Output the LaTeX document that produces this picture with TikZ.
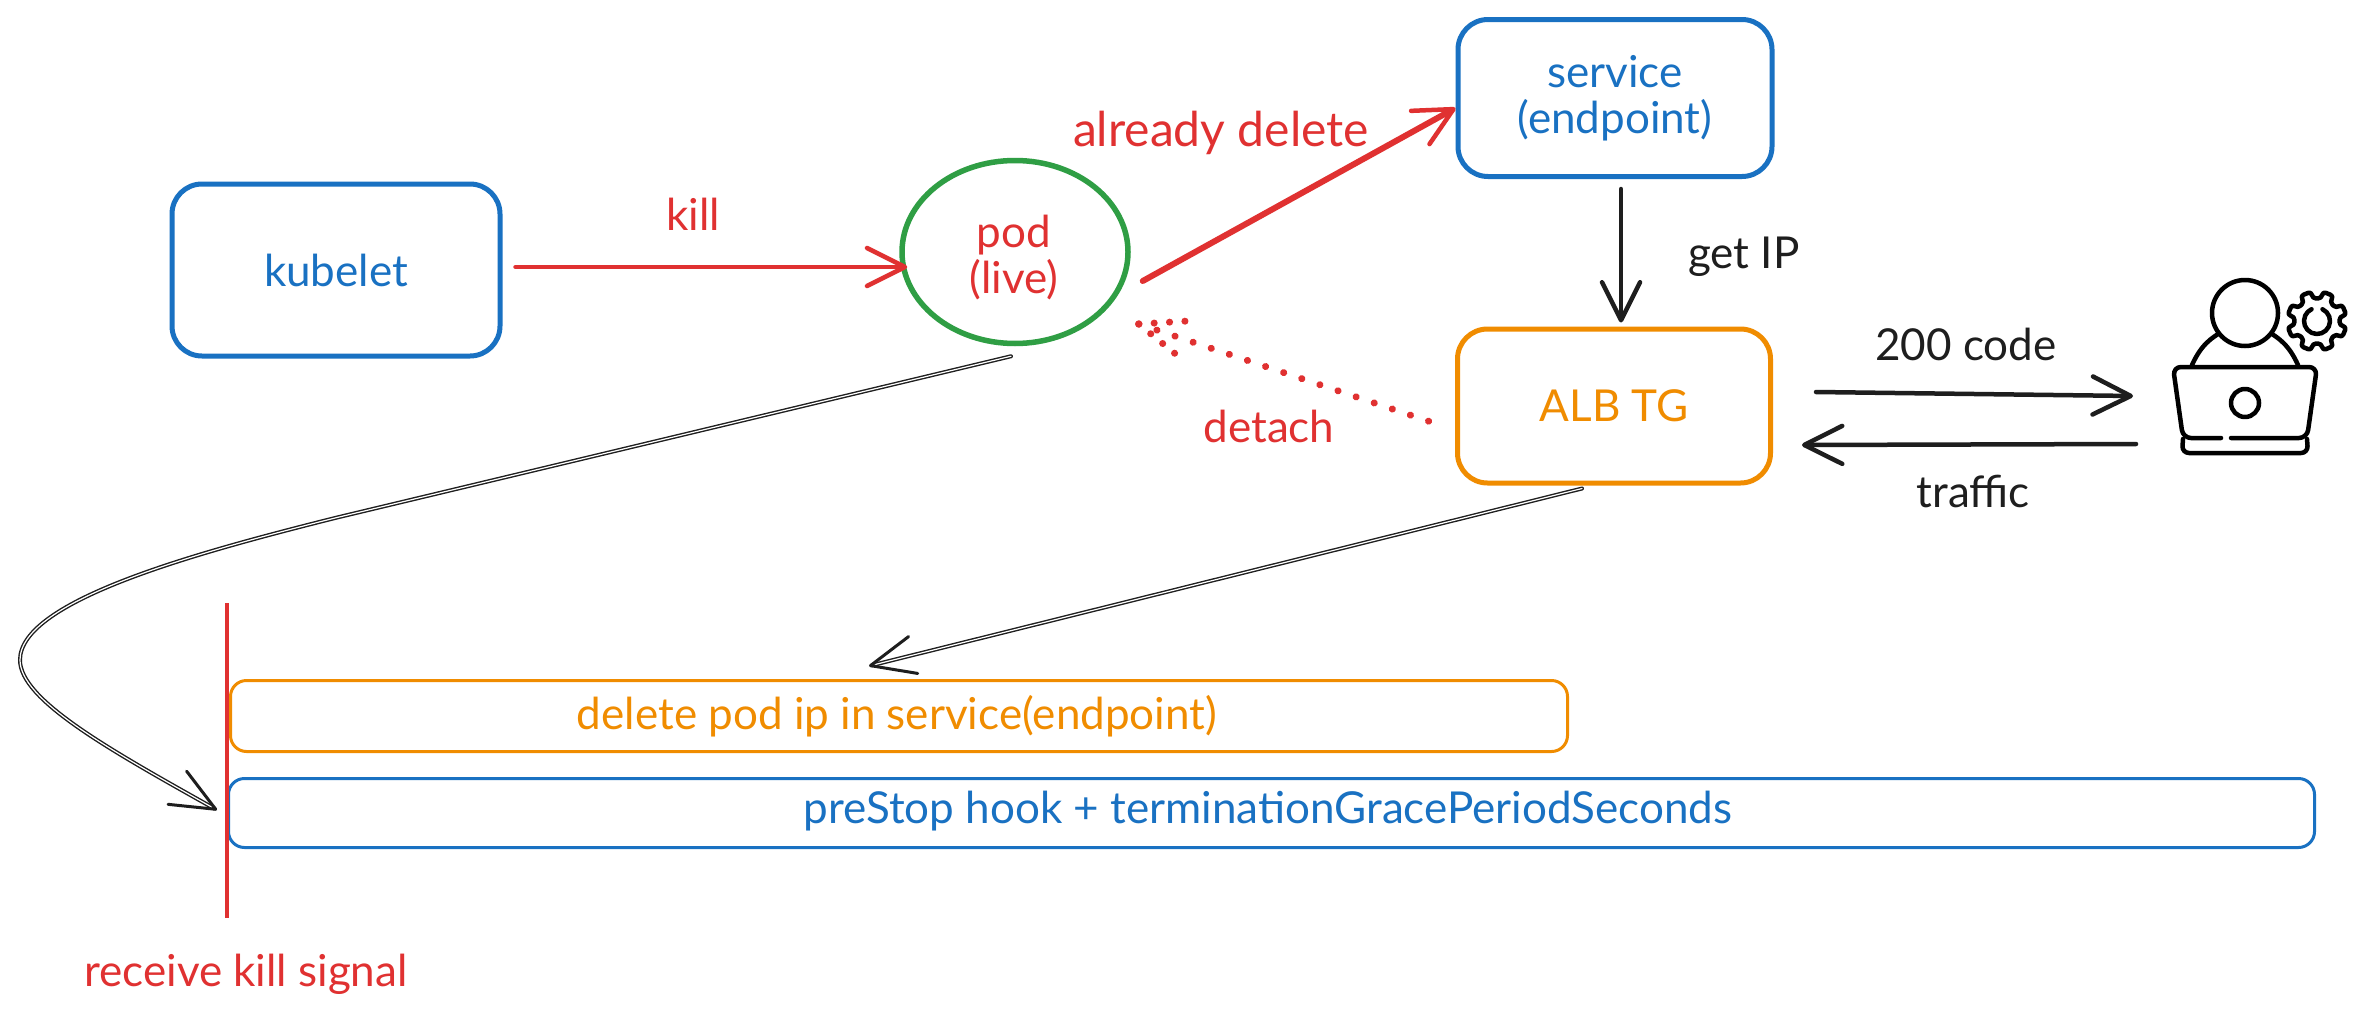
\documentclass[tikz,border=0pt]{standalone}
\usepackage{fontspec}
\setmainfont{Lato}
\usetikzlibrary{arrows.meta,shapes.geometric,calc}
\definecolor{xblue}{HTML}{1971C2}
\definecolor{xred}{HTML}{E03131}
\definecolor{xgreen}{HTML}{2F9E44}
\definecolor{xorange}{HTML}{F08C00}
\definecolor{xblack}{HTML}{1E1E1E}
\tikzset{
  base/.style={font=\fontsize{44}{46}\selectfont,inner sep=0pt,align=center},
  boxnode/.style={base,draw,rounded corners=30pt,line width=5pt,minimum width=#1},
  barnode/.style={base,draw,rounded corners=16pt,line width=3pt},
  lbl/.style={base,anchor=center},
  conn/.style={line width=4.5pt,line cap=round,-{Straight Barb[length=38pt,width=38pt,line width=4.5pt,round]}},
  thinconn/.style={line width=1.4pt,double=white,double distance=1.2pt,line cap=round,xblack,-{Straight Barb[length=44pt,width=38pt,line width=3pt,round]}},
  dotline/.style={xred,line width=7pt,line cap=round,dash pattern=on 0.1pt off #1},
  icon/.style={line width=4.5pt,line cap=round,line join=round,black},
}
\begin{document}
\begin{tikzpicture}[x=1pt,y=-1pt]
\useasboundingbox[fill=white] (0,0) rectangle (2367,1017);

% main nodes
\node[boxnode=328pt,xblue,text=xblue,minimum height=172pt] (kubelet) at (336,270) {kubelet};
\node[base,draw=xgreen,ellipse,line width=5.5pt,minimum width=226pt,minimum height=183pt] (pod) at (1015,252) {};
\node[lbl,text=xred] (podlbl) at (1014,258) {pod\\(live)};
\node[boxnode=314pt,xblue,text=xblue,minimum height=157pt] (service) at (1615,98) {service\\(endpoint)};
\node[boxnode=313pt,xorange,text=xorange,minimum height=154pt] (alb) at (1614,406) {ALB TG};

% bars
\node[barnode,xorange,text=xorange,minimum width=1337pt,minimum height=71pt,anchor=north west] (bardelete) at (229,679) {};
\node[lbl,text=xorange] (bardeletetext) at (897,716) {delete pod ip in service(endpoint)};
\node[barnode,xblue,text=xblue,minimum width=2086pt,minimum height=69pt,anchor=north west] (barstop) at (227,777) {};
\node[lbl,text=xblue] (barstoptext) at (1268,811) {preStop hook + terminationGracePeriodSeconds};

% labels
\node[lbl,text=xred] (killlbl) at (693,214) {kill};
\node[lbl,text=xred,font=\fontsize{48}{50}\selectfont] (dellbl) at (1221,133) {already delete};
\node[lbl,text=xblack] (iplbl) at (1744,257) {get IP};
\node[lbl,text=xred] (detlbl) at (1269,426) {detach};
\node[lbl,text=xblack] (codelbl) at (1966,344) {200 code};
\node[lbl,text=xblack] (trafficlbl) at (1973,491) {traffic};
\node[lbl,text=xred] (recvlbl) at (246,974) {receive kill signal};

% timeline
\coordinate (linetop) at (227,603);
\coordinate (linebot) at (227,918);
\draw[xred,line width=4.5pt] (linetop) -- (linebot);
\coordinate (lineat) at (217,810);

% person icon
\coordinate (user) at (2245,380);
\begin{scope}[shift={(user)}]
  \draw[icon,rounded corners=8pt] (-24,58) -- (-62,58) -- (-72,-13) -- (72,-13) -- (62,58) -- (-14,58);
  \draw[icon,rounded corners=7pt] (-62,59) -- (-63,73) -- (63,73) -- (62,59);
  \draw[icon] (0,23) circle (14);
  \draw[icon] (-53,-15) .. controls (-44,-35) and (-34,-42) .. (-22,-49);
  \draw[icon] (53,-15) .. controls (44,-35) and (34,-42) .. (22,-49);
  \draw[icon,fill=white] (0,-67) circle (33);
  \begin{scope}[shift={(72,-59)}]
    \draw[icon,rounded corners=3.5pt]
      (11.25:23) -- (11:30) -- (34:30) -- (33.75:23) --
      (56.25:23) -- (56:30) -- (79:30) -- (78.75:23) --
      (101.25:23) -- (101:30) -- (124:30) -- (123.75:23) --
      (146.25:23) -- (146:30) -- (169:30) -- (168.75:23) --
      (191.25:23) -- (191:30) -- (214:30) -- (213.75:23) --
      (236.25:23) -- (236:30) -- (259:30) -- (258.75:23) --
      (281.25:23) -- (281:30) -- (304:30) -- (303.75:23) --
      (326.25:23) -- (326:30) -- (349:30) -- (348.75:23) -- cycle;
    \draw[icon] (-65:13) arc[start angle=-65,end angle=245,radius=13];
  \end{scope}
  \node[inner sep=0pt,minimum size=0pt] (usernode) at (0,0) {};
\end{scope}

% connectors
\draw[conn,xred] ([shift={(13,-3)}]kubelet.east) -- ([shift={(8,15)}]pod.west);
\draw[conn,xred,line width=6pt] ([shift={(12,29)}]pod.east) -- ([shift={(0,10)}]service.west);
\draw[conn,xblack] ([shift={(6,10)}]service.south) -- ([shift={(7,-4)}]alb.north);
\coordinate (dettip) at ([shift={(8,72)}]pod.east);
\draw[dotline=19pt] (dettip) -- ([shift={(-21,17)}]alb.west);
\draw[dotline=15.3pt] (dettip) -- ++(49,-3);
\draw[dotline=15.3pt] (dettip) -- ++(38,31);
\draw[conn,xblack] ([shift={(43,-14)}]alb.east) -- ([shift={(-112,16)}]usernode.center);
\draw[conn,xblack] ([shift={(-109,64)}]usernode.center) -- ([shift={(29,39)}]alb.east);
\draw[thinconn] ([shift={(-4,10)}]pod.south) -- (335,518)
  .. controls (200,552) and (20,600) .. (20,660)
  .. controls (20,700) and (110,750) .. (lineat);
\draw[thinconn] ([shift={(-32,3)}]alb.south) -- ([shift={(-30,-13)}]bardelete.north);
\end{tikzpicture}
\end{document}
